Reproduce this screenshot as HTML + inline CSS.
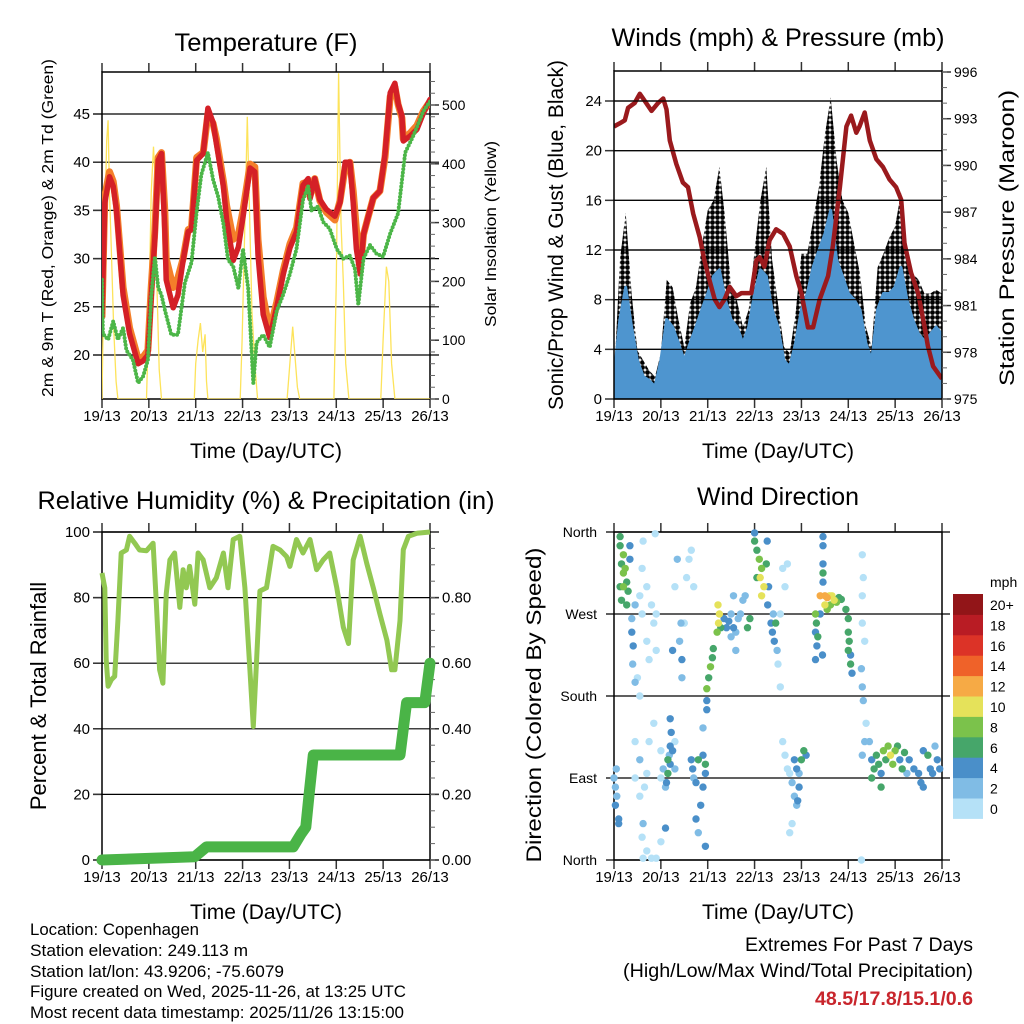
<!DOCTYPE html>
<html><head><meta charset="utf-8"><style>
html,body{margin:0;padding:0;background:#fff;}
svg{display:block;font-family:"Liberation Sans",Arial,sans-serif;}
</style></head><body>
<svg id="s" width="1024" height="1024" viewBox="0 0 1024 1024" xmlns="http://www.w3.org/2000/svg">
<defs>
<pattern id="dots" width="5" height="5" patternUnits="userSpaceOnUse"><circle cx="2.5" cy="2.5" r="2.4" fill="#000"/></pattern>
</defs>
<g id="g1"></g>
<g id="g2"></g>
<g id="g3"></g>
<g id="g4"></g>
<text x="266" y="51" font-size="25" text-anchor="middle" textLength="183" lengthAdjust="spacingAndGlyphs">Temperature (F)</text>
<text x="778" y="46" font-size="25" text-anchor="middle" textLength="333" lengthAdjust="spacingAndGlyphs">Winds (mph) &amp; Pressure (mb)</text>
<text x="266" y="509" font-size="25" text-anchor="middle" textLength="457" lengthAdjust="spacingAndGlyphs">Relative Humidity (%) &amp; Precipitation (in)</text>
<text x="778" y="505" font-size="25" text-anchor="middle" textLength="162" lengthAdjust="spacingAndGlyphs">Wind Direction</text>
<text transform="translate(53,228) rotate(-90)" font-size="16" text-anchor="middle" textLength="338" lengthAdjust="spacingAndGlyphs">2m &amp; 9m T (Red, Orange) &amp; 2m Td (Green)</text>
<text transform="translate(496,234) rotate(-90)" font-size="16" text-anchor="middle" textLength="186" lengthAdjust="spacingAndGlyphs">Solar Insolation (Yellow)</text>
<text transform="translate(563,235) rotate(-90)" font-size="21" text-anchor="middle" textLength="350" lengthAdjust="spacingAndGlyphs">Sonic/Prop Wind &amp; Gust (Blue, Black)</text>
<text transform="translate(1014,238) rotate(-90)" font-size="21" text-anchor="middle" textLength="296" lengthAdjust="spacingAndGlyphs">Station Pressure (Maroon)</text>
<text transform="translate(46,696) rotate(-90)" font-size="22" text-anchor="middle">Percent &amp; Total Rainfall</text>
<text transform="translate(541,705) rotate(-90)" font-size="21" text-anchor="middle" textLength="315" lengthAdjust="spacingAndGlyphs">Direction (Colored By Speed)</text>
<text x="266" y="458" font-size="21" text-anchor="middle" textLength="152" lengthAdjust="spacingAndGlyphs">Time (Day/UTC)</text>
<text x="778" y="458" font-size="21" text-anchor="middle" textLength="152" lengthAdjust="spacingAndGlyphs">Time (Day/UTC)</text>
<text x="266" y="919" font-size="21" text-anchor="middle" textLength="152" lengthAdjust="spacingAndGlyphs">Time (Day/UTC)</text>
<text x="778" y="919" font-size="21" text-anchor="middle" textLength="152" lengthAdjust="spacingAndGlyphs">Time (Day/UTC)</text>
<g font-size="16.5">
<text x="30" y="935" textLength="169" lengthAdjust="spacingAndGlyphs">Location: Copenhagen</text>
<text x="30" y="956" textLength="218" lengthAdjust="spacingAndGlyphs">Station elevation: 249.113 m</text>
<text x="30" y="977" textLength="254" lengthAdjust="spacingAndGlyphs">Station lat/lon: 43.9206; -75.6079</text>
<text x="30" y="997" textLength="376" lengthAdjust="spacingAndGlyphs">Figure created on Wed, 2025-11-26, at 13:25 UTC</text>
<text x="30" y="1018" textLength="374" lengthAdjust="spacingAndGlyphs">Most recent data timestamp: 2025/11/26 13:15:00</text>
</g>
<text x="973" y="951" font-size="19" text-anchor="end" textLength="228" lengthAdjust="spacingAndGlyphs">Extremes For Past 7 Days</text>
<text x="973" y="977" font-size="19" text-anchor="end" textLength="350" lengthAdjust="spacingAndGlyphs">(High/Low/Max Wind/Total Precipitation)</text>
<text x="973" y="1005" font-size="19" font-weight="bold" fill="#c8252c" text-anchor="end" textLength="158" lengthAdjust="spacingAndGlyphs">48.5/17.8/15.1/0.6</text>
</svg>
<script>
const dayLabels=["19/13","20/13","21/13","22/13","23/13","24/13","25/13","26/13"];
// Temperature
const redT=[0,.06,.16,.24,.31,.45,.59,.77,.88,.98,1.05,1.13,1.2,1.27,1.34,1.37,1.52,1.62,1.73,1.84,1.91,2.02,2.16,2.26,2.37,2.44,2.59,2.66,2.8,2.91,3.01,3.16,3.26,3.33,3.44,3.58,3.73,3.87,4.01,4.15,4.29,4.4,4.44,4.54,4.65,4.79,4.97,5.08,5.19,5.29,5.36,5.43,5.51,5.58,5.68,5.79,5.93,6.04,6.15,6.25,6.32,6.4,6.43,6.57,6.72,6.86,7];
const redV=[24,35.8,38.5,37.5,35,26.2,22.2,19.1,19.4,20,26,32.2,40.2,40.9,33,27.8,24.9,26.2,29.8,32.8,33,40.2,40.9,45.6,44.1,42,37.5,34,29.8,31.2,34.3,39.4,39,30.4,24.2,21.8,25,28.4,31.1,32.8,37.6,38.3,36.2,38.3,36.1,35.1,34.4,35.8,40,40,35.8,31,28.4,32.5,34.3,36.3,37,40.8,47.2,48.2,46.1,44.8,42.2,42.7,43.4,45.1,46.5];
const orangeV=[24,36.5,39,38,35.5,27,22.8,19.6,19.8,20.5,27,33,40.5,41,35,30,27,28,30,33,33.2,40.5,41,45,44,42.5,38,35.5,32,32.5,35,39.8,39.5,32,26,22.5,25.5,28.8,31.5,33.2,37.8,38,36.5,38.3,36,34.8,34,36,39.5,40,37,33,29,32.5,34.3,36.3,37,40.5,46.8,47.8,46,44.6,42.4,43,43.8,45.3,46.3];
const dewT=[0,.02,.13,.24,.34,.45,.52,.66,.77,.88,.98,1.05,1.13,1.2,1.27,1.34,1.48,1.62,1.77,1.91,2.02,2.12,2.26,2.37,2.48,2.59,2.69,2.8,2.91,3.01,3.12,3.23,3.3,3.44,3.58,3.73,3.87,4.01,4.15,4.29,4.4,4.47,4.61,4.72,4.86,5.01,5.15,5.29,5.4,5.47,5.58,5.72,5.86,6.0,6.15,6.32,6.47,6.65,6.86,7];
const dewV=[27.8,22.2,21.6,23.5,21.6,22.8,20.5,19.5,17.1,17.8,19.5,26,30.2,27,26.2,24.7,22.1,22.1,27.5,29.6,34.9,38.7,41,38.2,36.4,33.6,29.9,29.2,26.9,31,26.9,17.1,21.3,22.1,20.8,24.6,26.3,28.4,31,36.1,37.5,35,35.4,33.8,33.1,31,30,30.3,28.9,25.2,30,31.4,30.5,30.2,32.6,34.7,41,42.8,45.3,46.3];
const solarT=[0,.02,.06,.1,.13,.16,.2,.25,.3,.34,.95,1.0,1.05,1.1,1.13,1.17,1.22,1.27,1.97,2.0,2.05,2.1,2.15,2.2,2.23,2.26,2.95,2.99,3.05,3.1,3.14,3.2,3.27,3.32,3.95,4.0,4.07,4.12,4.17,4.22,4.95,5.0,5.05,5.1,5.15,5.2,5.27,5.95,6.0,6.07,6.12,6.18,6.25,7];
const solarV=[0,100,300,440,474,350,250,120,30,0,0,150,350,429,380,200,50,0,0,60,100,129,80,110,30,0,0,100,300,480,350,150,50,0,0,50,123,70,20,0,0,200,554,300,200,60,0,0,100,225,200,60,0,0];
// Winds
const windHours=[0,3,6,9,12,15,18,21,24,27,30,33,36,39,42,45,48,51,54,57,60,63,66,69,72,75,78,81,84,87,90,93,96,99,102,105,108,111,114,117,120,123,126,129,132,135,138,141,144,147,150,153,156,159,162,165,168];
const blueHi=[1.8,6.4,9,5.8,3.1,1.8,1.5,1,3.1,6.4,5.8,4.5,3.1,4.5,5.8,7.2,8.5,9.9,10.4,8,6.4,5.8,4.5,5.8,8.5,10.4,9.9,7.2,5.8,3.1,2.6,4.5,7.2,8.5,10.6,12,13.3,15.2,11.2,9.9,8.5,8,7.2,4.5,3.1,7.2,8.5,8.5,9,10.6,8,6.4,5.2,4.7,5.2,5.8,5.2];
const gustHi=[1.5,11.2,15,8.5,3.9,3.1,2.3,1.8,3.7,9.6,9,6.4,4.2,7.7,9,12.3,15.2,16,18.7,14.4,9,7.9,5.8,7.2,12,16,18.7,11.2,7.7,4.2,3.7,6.9,11.7,11.7,14.4,17.1,21.3,24.3,19.2,16,15,12.5,10.1,5.8,4.2,10.6,11.7,13,13.9,16.6,12.3,10.1,9.6,8.5,8.5,8.8,8.5];
const presT=[0,.12,.23,.3,.44,.55,.62,.8,.94,1.05,1.12,1.19,1.33,1.47,1.58,1.69,1.83,1.93,2.04,2.15,2.25,2.36,2.47,2.61,2.72,2.93,3.04,3.11,3.21,3.32,3.46,3.61,3.75,3.89,4.0,4.14,4.25,4.39,4.57,4.67,4.82,4.96,5.06,5.17,5.24,5.35,5.46,5.6,5.74,5.88,6.02,6.13,6.2,6.34,6.49,6.63,6.7,6.81,7];
const presV=[992.5,992.7,992.9,993.7,994.0,994.6,994.3,993.5,994.0,994.3,993.6,991.6,990.1,988.9,988.6,986.9,985.4,983.9,982.6,981.4,980.9,981.4,982.2,981.6,981.8,981.8,983.9,984.1,983.5,985.2,985.9,985.6,984.8,982.9,981.8,979.6,979.6,981.4,982.9,984.8,988.6,992.5,993.2,992.1,992.5,993.4,991.6,990.4,989.9,989.1,988.6,987.8,985.0,983.1,981.8,979.6,978.4,977.1,976.3];
// Humidity & precipitation
const rhT=[0,.06,.09,.13,.2,.27,.34,.41,.52,.59,.7,.8,.95,1.09,1.16,1.23,1.3,1.37,1.45,1.55,1.66,1.73,1.8,1.87,1.98,2.05,2.16,2.3,2.44,2.59,2.69,2.8,2.94,3.05,3.16,3.23,3.3,3.37,3.51,3.65,3.8,3.94,4.01,4.15,4.29,4.44,4.58,4.72,4.86,5.01,5.15,5.26,5.36,5.51,5.65,5.79,5.93,6.08,6.18,6.25,6.36,6.43,6.54,6.72,7];
const rhV=[87.5,83,61,53,55,56,73,93.6,94.5,98.7,96.6,94.5,94.3,96.6,78,58,53.9,81,91.5,93.6,77,88.5,83,89.5,78,93.6,91.5,83,86,93.6,83,97.7,98.7,83,57,40.7,61,82,83,95.6,94.5,92.5,89.5,97.7,93.6,97.7,88.5,91.5,93.6,83,71,66,91.5,98.7,90.5,83,75,67,58,58,73,94.6,98.7,99.6,100];
const precipT=[0,1.98,2.23,4.08,4.25,4.35,4.42,4.51,6.36,6.5,6.89,7];
const precipV=[0,0.01,0.04,0.04,0.08,0.1,0.2,0.32,0.32,0.48,0.48,0.6];
// Wind direction points: day, degrees, mph
const dirDay=[0.13,0.2,0.16,0.2,0.27,0.13,0.3,0.16,0.27,0.34,0.34,0.13,0.2,0.24,0.38,0.38,0.41,0.4,0.45,0.45,0.0,0.03,0.06,0.1,0.1,0.05,0.03,0.55,0.6,0.7,0.75,0.8,0.85,0.9,0.6,0.7,0.9,0.5,0.55,0.62,0.88,0.45,0.55,0.65,0.7,0.55,0.62,0.6,0.7,0.62,0.8,0.9,0.75,0.85,0.45,1.2,1.22,1.2,1.18,1.2,1.15,1.12,1.1,1.25,1.05,1.0,1.0,1.1,1.0,1.3,1.3,1.15,1.43,1.4,1.45,1.45,1.5,1.55,1.6,1.7,1.65,1.25,1.3,1.35,1.65,1.68,1.7,1.75,1.8,1.9,1.95,1.95,1.9,1.85,1.75,1.8,1.98,1.98,1.9,1.95,1.98,2.02,2.06,2.1,2.12,2.2,2.23,2.25,2.22,2.28,2.35,2.4,2.45,2.5,2.55,2.6,2.65,2.5,2.7,2.75,2.8,2.85,2.9,2.55,2.6,3.0,3.05,3.1,3.15,3.12,3.2,3.15,3.25,3.05,3.3,3.28,3.27,3.0,3.35,3.38,3.42,3.45,3.4,3.48,3.5,3.55,3.6,3.65,3.7,3.55,3.6,3.65,3.7,3.75,3.8,3.85,3.9,3.8,3.75,3.85,3.9,3.95,4.0,4.05,4.1,3.95,3.92,4.46,4.46,4.46,4.46,4.46,4.3,4.32,4.3,4.35,4.4,4.33,4.45,4.3,4.4,4.5,4.55,4.6,4.65,4.7,4.75,4.8,4.85,4.5,4.62,4.55,4.95,5.0,5.0,5.02,5.05,5.05,5.08,5.0,5.3,5.32,5.3,5.3,5.35,5.28,5.3,5.32,5.38,5.35,5.3,5.28,5.5,5.55,5.6,5.65,5.7,5.75,5.8,5.85,5.9,5.95,6.0,6.05,6.1,6.15,6.2,6.3,6.4,6.5,6.55,6.6,6.7,6.75,6.8,6.9,6.95,5.5,5.7,6.6,5.45,6.25,6.85];
const dirDeg=[345,335,325,315,305,300,295,285,280,330,345,355,300,320,265,250,235,215,195,280,90,80,70,45,40,100,60,290,270,240,220,280,260,270,320,300,230,200,180,350,358,130,110,80,95,70,40,25,10,2,2,2,130,150,90,155,140,125,115,105,95,85,80,120,100,120,90,35,20,130,100,110,260,240,220,200,260,310,330,300,340,230,300,330,110,100,90,85,110,115,105,95,80,60,45,30,165,175,145,15,188,200,212,222,232,250,260,270,280,255,265,255,262,270,255,250,265,245,270,285,290,255,265,290,230,350,340,330,320,310,300,290,325,310,300,280,350,359,260,250,240,260,270,230,215,190,320,300,325,270,130,115,100,95,85,70,60,40,30,110,100,95,110,120,115,80,65,355,345,325,315,305,270,260,250,245,270,235,225,220,290,290,288,290,290,285,283,288,286,280,280,275,275,265,250,240,225,215,205,230,335,310,290,260,240,210,190,175,150,130,115,0,110,100,115,105,95,120,110,125,115,105,120,125,110,100,118,110,100,95,85,120,115,100,95,110,100,90,80,80,130,95,125];
const dirSpd=[7,8,7,8,6,7,6,6,6,4,4,6,8,8,3,4,4,2,2,3,2,3,2,4,4,2,4,1,1,1,0,0,1,1,0,1,1,0,1,0,0,1,2,0,0,1,3,0,0,0,0,0,0,1,1,4,4,4,3,5,6,4,3,4,2,1,1,4,1,1,2,6,2,3,4,3,1,1,0,0,0,4,1,2,4,5,3,4,6,5,6,5,4,4,4,3,4,4,3,4,8,7,8,7,7,8,10,10,10,7,4,4,4,3,4,3,2,2,2,2,2,6,6,3,2,6,7,8,9,10,10,10,7,6,4,4,4,4,4,4,4,6,3,2,1,1,1,0,0,1,1,1,0,1,2,2,2,0,1,4,4,3,6,7,4,4,4,4,4,4,6,4,8,7,4,6,4,4,4,4,12,13,12,11,10,10,8,7,6,10,9,9,6,6,7,6,4,6,4,6,1,1,1,0,0,2,2,2,1,2,2,0,4,6,6,6,4,8,7,8,10,9,8,6,4,6,7,4,4,4,4,4,6,5,4,5,4,6,6,4,3,3,3];
const speedBins=["0","2","4","6","8","10","12","14","16","18","20+"];
const binColors=["#b5e1f7","#80bce5","#4a8fc9","#46a66a","#7bc24b","#e5e25a","#f6aa45","#ef6229","#dc3327","#b91c24","#921518"];

const NS="http://www.w3.org/2000/svg";
function mk(parent,tag,attrs,name){const e=document.createElementNS(NS,tag);for(const k in attrs)e.setAttribute(k,attrs[k]);


parent.appendChild(e);return e;}
function lin(d0,d1,r0,r1){return v=>r0+(v-d0)*(r1-r0)/(d1-d0);}
function path(xs,ys,fx,fy){return xs.map((x,i)=>(i?'L':'M')+fx(x).toFixed(1)+','+fy(ys[i]).toFixed(1)).join('');}
function txt(g,x,y,s,size,anchor,name){const t=mk(g,'text',{x:x,y:y,'font-size':size,'text-anchor':anchor},name);t.textContent=s;return t;}

function frame(g,L,R,T,B,fx,leftTicks,fy,leftFmt,gridExt,opts){
  leftTicks.forEach(v=>{const y=fy(v);mk(g,'line',{x1:L-gridExt,x2:R+gridExt,y1:y,y2:y,stroke:'#000','stroke-width':1.2},'grid-line');});
  for(let d=0;d<=7;d++){const x=fx(d);
    mk(g,'line',{x1:x,x2:x,y1:T-9,y2:T,stroke:'#333','stroke-width':1.5},'top-tick');
    mk(g,'line',{x1:x,x2:x,y1:B,y2:B+9,stroke:'#333','stroke-width':1.5},'bottom-tick');
    txt(g,x,B+22,dayLabels[d],15,'middle','x-tick-label');}
  if(leftFmt) leftTicks.forEach(v=>{const y=fy(v);mk(g,'line',{x1:L-9,x2:L,y1:y,y2:y,stroke:'#333','stroke-width':1.5},'left-tick');
    txt(g,L-12,y+5,leftFmt(v),opts.fs||15,'end','y-tick-label');});
  mk(g,'rect',{x:L,y:T,width:R-L,height:B-T,fill:'none',stroke:'#000','stroke-width':1.5},'plot-frame');
}
function rightAxis(g,R,T,B,vals,fy,fmt,minor,fs){
  vals.forEach(v=>{const y=fy(v);mk(g,'line',{x1:R,x2:R+9,y1:y,y2:y,stroke:'#333','stroke-width':1.5},'right-tick');
    txt(g,R+12,y+5,fmt(v),fs,'start','right-tick-label');});
  minor.forEach(v=>{const y=fy(v);if(y>=T&&y<=B)mk(g,'line',{x1:R,x2:R+5,y1:y,y2:y,stroke:'#666','stroke-width':1},'right-minor-tick');});
}

// Panel 1
(function(){const g=document.getElementById('g1');const L=102,R=430,T=72,B=399;
 const fx=lin(0,7,L,R), fy=lin(20,45,355,114), fs=lin(0,500,399,105);
 const ticks=[20,25,30,35,40,45];
 frame(g,L,R,T,B,fx,ticks,fy,v=>v,9,{fs:15});
 const minor=[];for(let v=0;v<=560;v+=20)minor.push(v);
 rightAxis(g,R,T,B,[0,100,200,300,400,500],fs,v=>v,minor,14);
 const cp=mk(g,'clipPath',{id:'c1'},'clip');mk(cp,'rect',{x:L,y:T,width:R-L,height:B-T},'clip-rect');
 const pg=mk(g,'g',{'clip-path':'url(#c1)'},'series-group');
 mk(pg,'path',{d:path(solarT,solarV,fx,fs),fill:'none',stroke:'#fde35a','stroke-width':1.3},'solar-line');
 mk(pg,'path',{d:path(redT,orangeV,fx,fy),fill:'none',stroke:'#f47f2a','stroke-width':7,'stroke-linejoin':'round','stroke-linecap':'round'},'temp-9m-line');
 mk(pg,'path',{d:path(redT,redV,fx,fy),fill:'none',stroke:'#d42027','stroke-width':5.5,'stroke-linejoin':'round','stroke-linecap':'round'},'temp-2m-line');
 mk(pg,'path',{d:path(dewT,dewV,fx,fy),fill:'none',stroke:'#4cb648','stroke-width':4,'stroke-dasharray':'0 3.5','stroke-linecap':'round'},'dewpoint-line');
})();
// Panel 2
(function(){const g=document.getElementById('g2');const L=614,R=942,T=71,B=399;
 const fx=lin(0,7,L,R), fy=lin(0,24,399,101), fp=lin(975,996,399,72);
 const fh=h=>fx(h/24);
 const ticks=[0,4,8,12,16,20,24];
 [4,8,12,16,20,24].forEach(v=>{const y=fy(v);mk(g,'line',{x1:L,x2:R,y1:y,y2:y,stroke:'#000','stroke-width':1.2},'grid-line');});
 const cp=mk(g,'clipPath',{id:'c2'},'clip');mk(cp,'rect',{x:L,y:T,width:R-L,height:B-T},'clip-rect');
 const pg=mk(g,'g',{'clip-path':'url(#c2)'},'series-group');
 const area=(hi)=>path(windHours,hi,fh,fy)+'L'+fh(168)+','+fy(0)+'L'+fh(0)+','+fy(0)+'Z';
 mk(pg,'path',{d:area(gustHi),fill:'url(#dots)',stroke:'none'},'gust-area');
 mk(pg,'path',{d:area(blueHi),fill:'#4e95cf',stroke:'#4e95cf','stroke-width':3,'stroke-linejoin':'round'},'wind-area');
 mk(pg,'path',{d:path(presT,presV,fx,fp),fill:'none',stroke:'#9a1a1d','stroke-width':4.5,'stroke-linejoin':'round'},'pressure-line');
 frame(g,L,R,T,B,fx,ticks,fy,v=>v,0,{fs:15});
 const minor=[];for(let v=975;v<=996;v+=1)minor.push(v);
 rightAxis(g,R,T,B,[975,978,981,984,987,990,993,996],fp,v=>v,minor,14);
})();
// Panel 3
(function(){const g=document.getElementById('g3');const L=102,R=430,T=532,B=860;
 const fx=lin(0,7,L,R), fy=lin(0,100,860,532), fr=lin(0,1,860,532);
 const ticks=[0,20,40,60,80,100];
 frame(g,L,R,T,B,fx,ticks,fy,v=>v,9,{fs:15});
 const minor=[];for(let v=0;v<=1;v+=0.05)minor.push(v);
 rightAxis(g,R,T,B,[0,0.2,0.4,0.6,0.8],fr,v=>v.toFixed(2),minor,15);
 mk(g,'path',{d:path(rhT,rhV,fx,fy),fill:'none',stroke:'#92c852','stroke-width':5,'stroke-linejoin':'round'},'humidity-line');
 mk(g,'path',{d:path(precipT,precipV,fx,fr),fill:'none',stroke:'#4ab447','stroke-width':11,'stroke-linejoin':'round','stroke-linecap':'round'},'precip-line');
})();
// Panel 4
(function(){const g=document.getElementById('g4');const L=614,R=942,T=532,B=860;
 const fx=lin(0,7,L,R), fy=lin(0,360,860,532);
 const dirs=[0,90,180,270,360], names=["North","East","South","West","North"];
 frame(g,L,R,T,B,fx,dirs,fy,null,8,{});
 dirs.forEach((v,i)=>txt(g,597,fy(v)+5,names[i],14,'end','direction-label'));
 const idx=dirDay.map((d,i)=>i).sort((a,b)=>dirSpd[a]-dirSpd[b]);
 idx.forEach(i=>{const b=Math.min(10,Math.floor(dirSpd[i]/2));
   mk(g,'circle',{cx:fx(dirDay[i]).toFixed(1),cy:fy(dirDeg[i]).toFixed(1),r:3.7,fill:binColors[b]},'direction-point');});
 const cb=mk(g,'g',{},'speed-colorbar');
 const h=20.4;
 speedBins.forEach((s,i)=>{const y=594+(10-i)*h;
   mk(cb,'rect',{x:953,y:y,width:30,height:h+0.5,fill:binColors[i]},'colorbar-bin');
   txt(cb,990,y+16,s,14,'start','colorbar-label');});
 txt(cb,990,587,'mph',14,'start','colorbar-title');
})();
</script>
</body></html>
